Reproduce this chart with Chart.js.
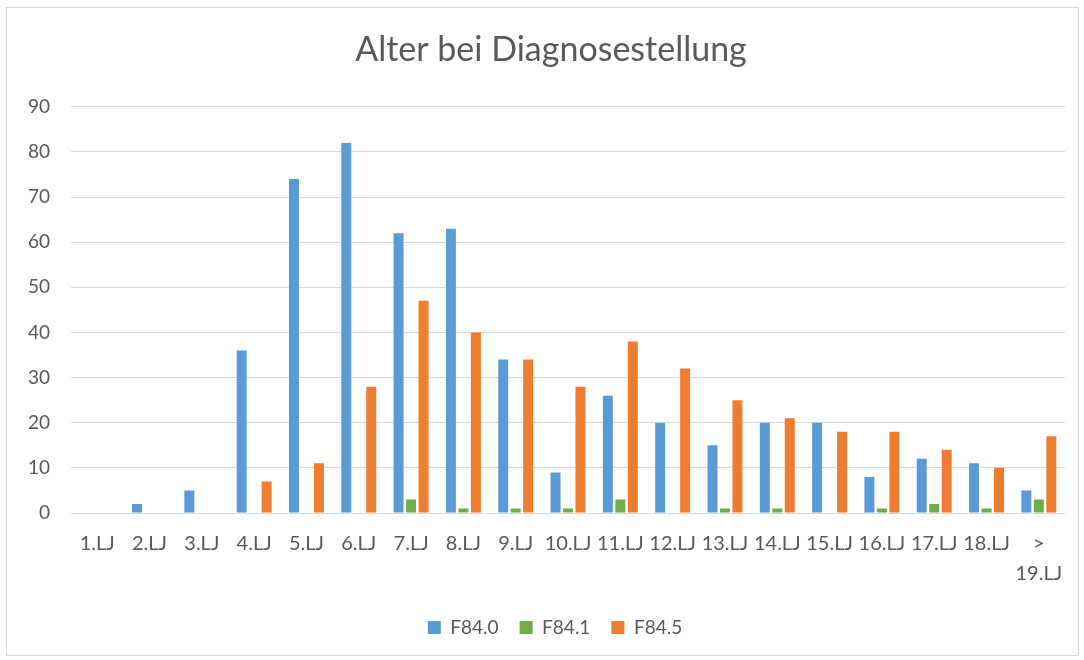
<!DOCTYPE html>
<html>
<head>
<meta charset="utf-8">
<script src="https://cdn.jsdelivr.net/npm/chart.js@4/dist/chart.umd.min.js"></script>
<style>
html,body{margin:0;padding:0;background:#fff;}
#wrap{width:1084px;height:660px;position:relative;}
</style>
</head>
<body>
<div id="wrap"><canvas id="c" width="1084" height="660"></canvas></div>
<script>
const categories = ['1.LJ','2.LJ','3.LJ','4.LJ','5.LJ','6.LJ','7.LJ','8.LJ','9.LJ','10.LJ','11.LJ','12.LJ','13.LJ','14.LJ','15.LJ','16.LJ','17.LJ','18.LJ',['>','19.LJ']];
const f840 = [0,2,5,36,74,82,62,63,34,9,26,20,15,20,20,8,12,11,5];
const f841 = [0,0,0,0,0,0,3,1,1,1,3,0,1,1,0,1,2,1,3];
const f845 = [0,0,0,7,11,28,47,40,34,28,38,32,25,21,18,18,14,10,17];
const seriesNames = ['F84.0','F84.1','F84.5'];
const colors = ['#5B9BD5','#70AD47','#ED7D31'];
const yTicks = [0,10,20,30,40,50,60,70,80,90];

const FONT = 'Lato, "Open Sans", sans-serif';
const TXT = '#595959';

const borderPlugin = {
  id:'outerBorder',
  beforeDraw(chart){
    const c = chart.ctx;
    c.save();
    c.fillStyle='#fff';
    c.fillRect(0,0,chart.width,chart.height);
    c.strokeStyle='#d9d9d9';
    c.lineWidth=1;
    c.strokeRect(6.5,7.5,1072,648);
    c.restore();
  },
  afterLayout(chart){
    // centre title and legend the way the reference does
    if (chart.titleBlock){ chart.titleBlock.left += 15; chart.titleBlock.right += 15; }
    if (chart.legend){ chart.legend.left += 19; chart.legend.right += 19; }
  }
};

new Chart(document.getElementById('c'), {
  type:'bar',
  data:{
    labels: categories,
    datasets:[f840,f841,f845].map((d,i)=>({
      label: seriesNames[i], data:d, backgroundColor: colors[i], borderWidth:0,
      categoryPercentage:0.716, barPercentage:0.8
    }))
  },
  options:{
    responsive:false,
    animation:false,
    layout:{padding:{top:14,left:7,right:19,bottom:13}},
    plugins:{
      title:{display:true,text:'Alter bei Diagnosestellung',color:TXT,
        font:{family:FONT,size:34,weight:'normal'},padding:{top:16,bottom:36}},
      legend:{position:'bottom',
        labels:{color:TXT,font:{family:FONT,size:19},boxWidth:13,boxHeight:13,padding:21}},
      tooltip:{enabled:false}
    },
    scales:{
      x:{
        grid:{display:false},
        border:{display:false},
        ticks:{color:TXT,font:{family:FONT,size:20,lineHeight:1.5},maxRotation:0,autoSkip:false,padding:8}
      },
      y:{
        min:0,max:90,
        afterBuildTicks(axis){ axis.ticks = yTicks.map(v=>({value:v})); },
        grid:{color:'#d9d9d9',lineWidth:1,drawTicks:false},
        border:{display:false},
        ticks:{color:TXT,font:{family:FONT,size:19},padding:21}
      }
    }
  },
  plugins:[borderPlugin]
});
</script>
</body>
</html>
